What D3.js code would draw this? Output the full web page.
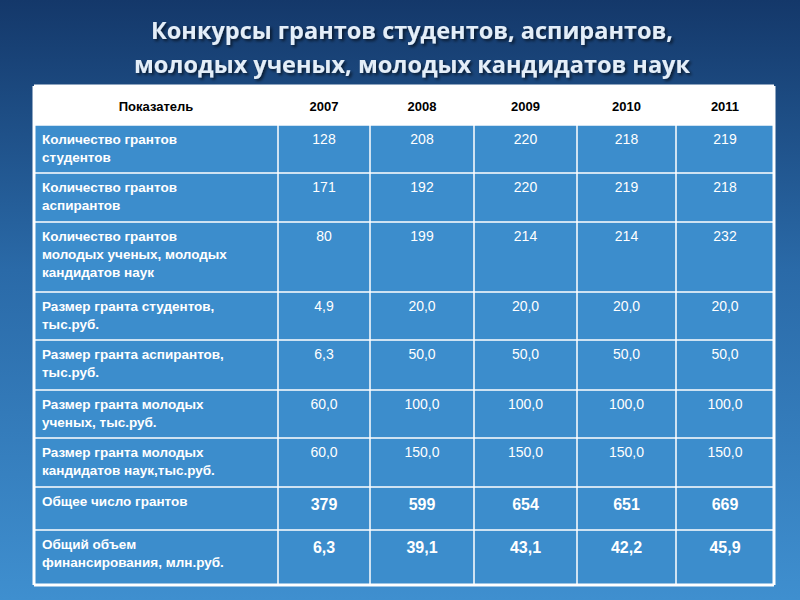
<!DOCTYPE html><html><head><meta charset="utf-8"><script src="https://d3js.org/d3.v7.min.js"></script>
<style>body{margin:0}</style></head><body><svg id="c" width="800" height="600"></svg><script>
const years=["2007","2008","2009","2010","2011"];
const headerLabel="Показатель";
const rowLabels=[["Количество грантов","студентов"],["Количество грантов","аспирантов"],["Количество грантов","молодых ученых, молодых","кандидатов наук"],["Размер гранта студентов,","тыс.руб."],["Размер гранта аспирантов,","тыс.руб."],["Размер гранта молодых","ученых, тыс.руб."],["Размер гранта молодых","кандидатов наук,тыс.руб."],["Общее число грантов"],["Общий объем","финансирования, млн.руб."]];
const values=[["128","208","220","218","219"],["171","192","220","219","218"],["80","199","214","214","232"],["4,9","20,0","20,0","20,0","20,0"],["6,3","50,0","50,0","50,0","50,0"],["60,0","100,0","100,0","100,0","100,0"],["60,0","150,0","150,0","150,0","150,0"],["379","599","654","651","669"],["6,3","39,1","43,1","42,2","45,9"]];
const boldRows=[7,8];
const colEdges=[34,278,370,474,577,676,774];
const rowEdges=[86,125,173,222,292,340,390,438,487,530,585];
const svg=d3.select("#c");
const defs=svg.append("defs");
const g=defs.append("linearGradient").attr("id","bg").attr("x1",0).attr("y1",0).attr("x2",0).attr("y2",1);
g.append("stop").attr("offset","0%").attr("stop-color","#14386a");
g.append("stop").attr("offset","45%").attr("stop-color","#2a6aa8");
g.append("stop").attr("offset","100%").attr("stop-color","#3f8fcf");
const f=defs.append("filter").attr("id","sh");f.append("feDropShadow").attr("dx",2).attr("dy",2).attr("stdDeviation",1.5).attr("flood-color","#000").attr("flood-opacity",0.6);
svg.append("rect").attr("width",800).attr("height",600).attr("fill","url(#bg)");
[["Конкурсы грантов студентов, аспирантов,",39],["молодых ученых, молодых кандидатов наук",73]].forEach(([t,y])=>
svg.append("text").attr("x",412).attr("y",y).attr("text-anchor","middle").attr("fill","#e4eef8").attr("font-family","Open Sans").attr("font-weight","bold").attr("font-size",23.5).attr("filter","url(#sh)").text(t));
const x0=colEdges[0],x1=colEdges[colEdges.length-1];
svg.append("rect").attr("x",x0).attr("y",rowEdges[0]).attr("width",x1-x0).attr("height",rowEdges[1]-rowEdges[0]).attr("fill","#fff");
svg.append("rect").attr("x",x0).attr("y",rowEdges[1]).attr("width",x1-x0).attr("height",rowEdges[rowEdges.length-1]-rowEdges[1]).attr("fill","#3c8dcc");
const ff="Liberation Sans, Arial";
svg.append("text").attr("x",(colEdges[0]+colEdges[1])/2).attr("y",111).attr("text-anchor","middle").attr("font-family",ff).attr("font-weight","bold").attr("font-size",13).text(headerLabel);
years.forEach((y,i)=>svg.append("text").attr("x",(colEdges[i+1]+colEdges[i+2])/2).attr("y",111).attr("text-anchor","middle").attr("font-family",ff).attr("font-weight","bold").attr("font-size",13).text(y));
rowLabels.forEach((lines,r)=>{
  const top=rowEdges[r+1];
  const t=svg.append("text").attr("font-family",ff).attr("font-weight","bold").attr("font-size",13.5).attr("fill","#fff");
  lines.forEach((l,k)=>t.append("tspan").attr("x",42).attr("y",top+19+k*18).text(l));
  const b=boldRows.includes(r);
  values[r].forEach((v,i)=>svg.append("text").attr("x",(colEdges[i+1]+colEdges[i+2])/2).attr("y",top+(b?23:19)).attr("text-anchor","middle").attr("font-family",ff).attr("font-weight",b?"bold":"normal").attr("font-size",b?16:14).attr("fill","#fff").text(v));
});
colEdges.forEach(x=>svg.append("line").attr("x1",x).attr("x2",x).attr("y1",rowEdges[0]).attr("y2",rowEdges[rowEdges.length-1]).attr("stroke","#fff").attr("stroke-width",x===x0||x===x1?3:1.5));
rowEdges.forEach(y=>svg.append("line").attr("x1",x0).attr("x2",x1).attr("y1",y).attr("y2",y).attr("stroke","#fff").attr("stroke-width",y===rowEdges[0]||y===rowEdges[rowEdges.length-1]?3:1.5));
</script></body></html>
